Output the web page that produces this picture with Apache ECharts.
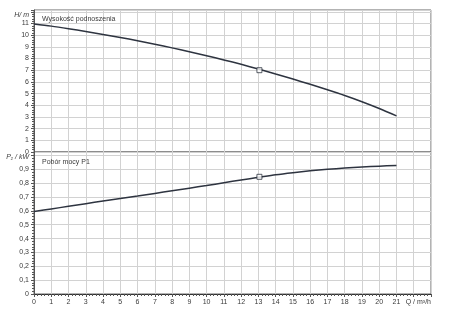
<!DOCTYPE html>
<html><head><meta charset="utf-8">
<script src="https://cdn.jsdelivr.net/npm/echarts@6/dist/echarts.min.js"></script>
<style>html,body{margin:0;padding:0;background:#fff}#c{width:450px;height:318px}</style>
</head><body><div id="c"></div>
<script>
const flowQ = [0,1,2,3,4,5,6,7,8,9,10,11,12,13,14,15,16,17,18,19,20,21];
const headH = [10.95,10.77,10.55,10.31,10.06,9.80,9.52,9.22,8.91,8.58,8.24,7.88,7.50,7.10,6.67,6.24,5.79,5.32,4.83,4.30,3.72,3.09];
const powerP1 = [0.595,0.614,0.633,0.652,0.671,0.689,0.707,0.726,0.745,0.764,0.783,0.803,0.823,0.842,0.861,0.876,0.889,0.900,0.909,0.917,0.923,0.927];
const dutyQ = [13.06];
const dutyH = [7.0];
const dutyP1 = [0.846];
const xTickMax = 21;
const headTitle = 'Wysokość podnoszenia';
const powerTitle = 'Pobór mocy P1';
const headAxisName = 'H/ m';
const powerAxisName = 'P\u2081 / kW';
const flowAxisName = 'Q / m\u00b3/h';

const FONT = "'Liberation Sans', Arial, sans-serif";
const TXT = '#3a3a3a';
const GRIDC = '#d2d2d2';
const AXC = '#555';
const LINEC = '#2e3440';

function pairs(xs, ys){ return xs.map((x,i)=>[x, ys[i]]); }

const chart = echarts.init(document.getElementById('c'), null, {renderer:'canvas'});
const yCommon = {
  type:'value',
  axisLine:{show:true, lineStyle:{color:AXC, width:1}},
  axisTick:{show:true, length:3, lineStyle:{color:AXC}},
  minorTick:{show:true, splitNumber:5, length:2, lineStyle:{color:AXC}},
  splitLine:{show:true, lineStyle:{color:GRIDC, width:1}},
  minorSplitLine:{show:false},
  nameLocation:'end',
  nameGap:-5,
  nameTextStyle:{fontFamily:FONT, fontSize:7, color:TXT, fontStyle:'italic', align:'right', verticalAlign:'middle', padding:[0,5,0,0]}
};
chart.setOption({
  animation:false,
  backgroundColor:'#fff',
  textStyle:{fontFamily:FONT},
  title:[
    {text:headTitle, left:37, top:11, textStyle:{fontFamily:FONT, fontSize:7, fontWeight:'normal', color:TXT}},
    {text:powerTitle, left:37, top:154, textStyle:{fontFamily:FONT, fontSize:7, fontWeight:'normal', color:TXT}}
  ],
  grid:[
    {left:34, right:19, top:10, height:142, show:true, borderColor:'#666', borderWidth:1, containLabel:false},
    {left:34, right:19, top:152, height:142, show:true, borderColor:'#666', borderWidth:1, containLabel:false}
  ],
  xAxis:[
    {gridIndex:0, type:'value', min:0, max:23, interval:1,
     axisLabel:{show:false}, axisTick:{show:false}, axisLine:{show:false},
     splitLine:{show:true, lineStyle:{color:GRIDC, width:1}}},
    {gridIndex:1, type:'value', min:0, max:23, interval:1,
     axisLine:{show:true, lineStyle:{color:'#333', width:1}},
     axisTick:{show:true, length:3, lineStyle:{color:AXC}},
     minorTick:{show:true, splitNumber:5, length:2, lineStyle:{color:AXC}},
     splitLine:{show:true, lineStyle:{color:GRIDC, width:1}},
     axisLabel:{fontFamily:FONT, fontSize:7, color:TXT, margin:5,
       formatter:v => v <= xTickMax ? String(v) : ''},
     name:flowAxisName, nameLocation:'end', nameGap:0,
     nameTextStyle:{fontFamily:FONT, fontSize:7, color:TXT, align:'right', verticalAlign:'top', padding:[5,0,0,0]}}
  ],
  yAxis:[
    Object.assign({}, yCommon, {gridIndex:0, min:0, max:12.15, interval:1, name:headAxisName,
      axisLabel:{fontFamily:FONT, fontSize:7, color:TXT, margin:5, formatter:v => v < 11.5 ? String(v) : ''}}),
    Object.assign({}, yCommon, {gridIndex:1, min:0, max:1.025, interval:0.1, name:powerAxisName,
      axisLabel:{fontFamily:FONT, fontSize:7, color:TXT, margin:5,
        formatter:v => v < 0.95 ? String(+v.toFixed(1)).replace('.', ',') : ''}})
  ],
  series:[
    {type:'line', xAxisIndex:0, yAxisIndex:0, data:pairs(flowQ, headH), smooth:0.3, symbol:'none',
     lineStyle:{color:LINEC, width:1.5}, z:3},
    {type:'scatter', xAxisIndex:0, yAxisIndex:0, data:pairs(dutyQ, dutyH), symbol:'rect', symbolSize:5,
     itemStyle:{color:'#fff', borderColor:LINEC, borderWidth:1}, z:4},
    {type:'line', xAxisIndex:1, yAxisIndex:1, data:pairs(flowQ, powerP1), smooth:0.3, symbol:'none',
     lineStyle:{color:LINEC, width:1.5}, z:3},
    {type:'scatter', xAxisIndex:1, yAxisIndex:1, data:pairs(dutyQ, dutyP1), symbol:'rect', symbolSize:5,
     itemStyle:{color:'#fff', borderColor:LINEC, borderWidth:1}, z:4}
  ]
});
</script>
</body></html>
